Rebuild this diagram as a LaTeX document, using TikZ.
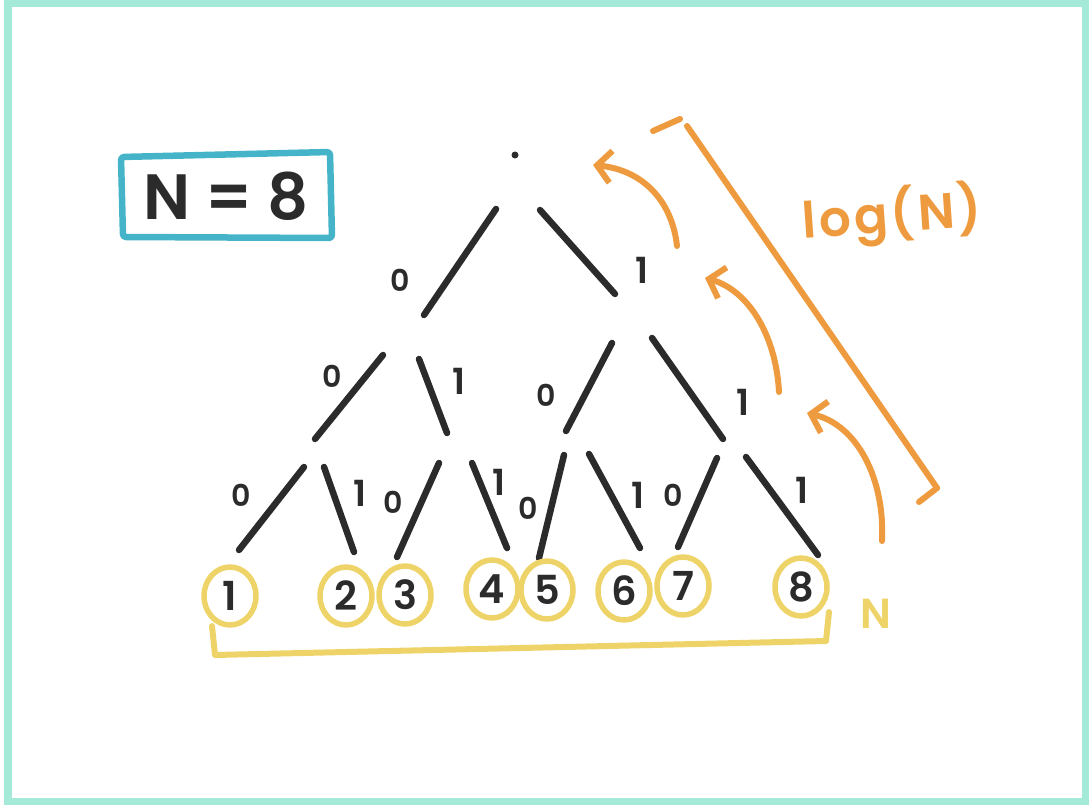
\documentclass[tikz,border=0pt]{standalone}
\usepackage{fontspec}
\newfontfamily\hand{Poppins}[BoldFont={Poppins SemiBold}]
\usetikzlibrary{arrows.meta,shapes.geometric}
\definecolor{ink}{HTML}{2B2B2B}
\definecolor{mint}{HTML}{A5E9D9}
\definecolor{teal}{HTML}{45B4C9}
\definecolor{marker}{HTML}{EE9A3E}
\definecolor{gold}{HTML}{EED468}
\newcommand{\handsz}[1]{\hand\bfseries\fontsize{#1}{#1}\selectfont}
\begin{document}
\begin{tikzpicture}[x=1pt,y=-1pt,
  branch/.style={draw=ink,line width=6.5pt,line cap=round},
  zero/.style={text=ink,font=\handsz{30},inner sep=0pt},
  one/.style={text=ink,font=\handsz{36},inner sep=0pt},
  leaf/.style={ellipse,draw=gold,line width=5.5pt,minimum width=52pt,minimum height=58pt,
    inner sep=0pt,text=ink,font=\handsz{40}},
  pen/.style={draw=marker,line width=6pt,line cap=round,line join=round},
  climb/.style={pen,-{Straight Barb[length=14pt,width=32pt,line width=6pt]}}]
\useasboundingbox (0,0) rectangle (1089,805);
% frame
\draw[mint,line width=7.5pt] (8,3.5) rectangle (1085.5,802);

% title box
\node[text=ink,font=\handsz{64},inner sep=0pt] (title) at (226,196) {N = 8};
\draw[teal,line width=6.5pt,line join=round,rounded corners=3pt]
  (121,157) -- (330,152) -- (332,238) -- (123,237) -- cycle;

% tree root
\node[circle,fill=ink,inner sep=0pt,minimum size=7pt] (root) at (515,155) {};

% branches, level by level
\foreach \a/\b in {
  {(496,209)}/{(424,315)}, {(540,210)}/{(615,294)},
  {(383,355)}/{(315,439)}, {(419,359)}/{(447,433)},
  {(612,343)}/{(566,431)}, {(652,338)}/{(723,439)},
  {(304,467)}/{(239,550)}, {(324,467)}/{(354,552)},
  {(439,463)}/{(397,557)}, {(472,463)}/{(507,548)},
  {(564,455)}/{(539,558)}, {(589,454)}/{(640,548)},
  {(717,458)}/{(678,547)}, {(746,457)}/{(818,555)}}
  \draw[branch] \a -- \b;

% branch labels
\node[zero] (z1) at (400,280) {0};
\node[one]  (o1) at (642,270) {1};
\node[zero] (z2a) at (332,376) {0};
\node[one]  (o2a) at (459,381) {1};
\node[zero] (z2b) at (546,395) {0};
\node[one]  (o2b) at (743,402) {1};
\node[zero] (z3a) at (241,495) {0};
\node[one]  (o3a) at (360,493) {1};
\node[zero] (z3b) at (393,502) {0};
\node[one]  (o3b) at (499,482) {1};
\node[zero] (z3c) at (528,508) {0};
\node[one]  (o3c) at (638,495) {1};
\node[zero] (z3d) at (673,495) {0};
\node[one]  (o3d) at (802,490) {1};

% leaves
\node[leaf] (l1) at (230,596) {1};
\node[leaf] (l2) at (346,596) {2};
\node[leaf] (l3) at (405,595) {3};
\node[leaf] (l4) at (492,589) {4};
\node[leaf] (l5) at (547,590) {5};
\node[leaf] (l6) at (624,591) {6};
\node[leaf] (l7) at (683,586) {7};
\node[leaf] (l8) at (801,587) {8};

% bracket over all leaves
\coordinate (bl) at (212,626);
\coordinate (br) at (829,612);
\draw[gold,line width=6pt,line cap=round,line join=round]
  (bl) -- (215,655) -- (826,641) -- (br);
\node[text=gold,font=\handsz{42},inner sep=0pt] (n) at (876,614) {N};

% depth measure
\coordinate (top) at (687,126);
\coordinate (bot) at (937,488);
\draw[pen] (top) -- (bot);
\draw[pen] (653,131) -- (680,119);
\draw[pen] (919,502) -- (bot);
\node[text=marker,font={\handsz{50}\addfontfeature{LetterSpace=6}},inner sep=0pt,rotate=4]
  (log) at (892,216) {log(N)};

% climbing arrows
\coordinate (a1s) at (677,246);
\coordinate (a1e) at (593,165);
\coordinate (a2s) at (779,392);
\coordinate (a2e) at (705,278);
\coordinate (a3s) at (882,541);
\coordinate (a3e) at (807,413);
\draw[climb] (a1s) .. controls (672,200) and (642,170) .. (a1e);
\draw[climb] (a2s) .. controls (776,335) and (748,290) .. (a2e);
\draw[climb] (a3s) .. controls (885,480) and (858,425) .. (a3e);
\end{tikzpicture}
\end{document}
